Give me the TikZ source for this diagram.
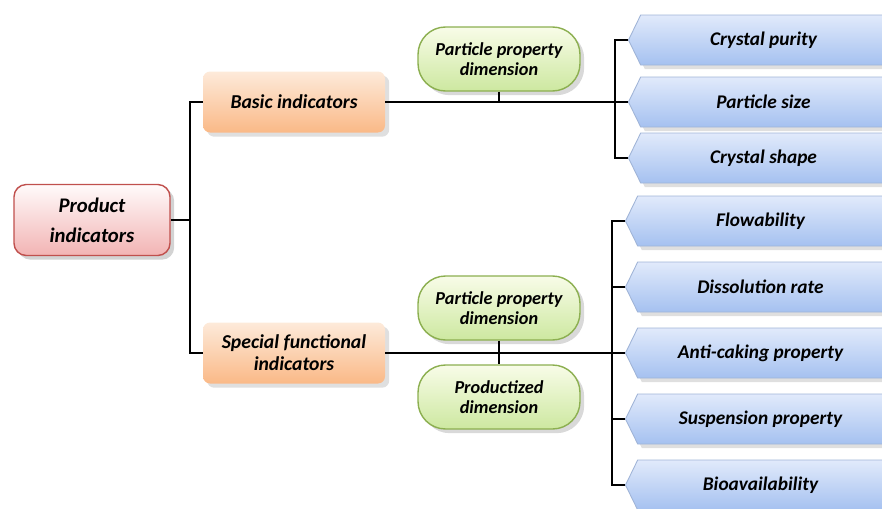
\documentclass[tikz,border=0pt]{standalone}
\usepackage{fontspec}
\setmainfont{Carlito}
\usepackage{xcolor}
\usepackage{tikz}
\usetikzlibrary{positioning,shadows,shapes.symbols}
\definecolor{rootred}{RGB}{192,80,77}
\definecolor{roottop}{RGB}{255,250,250}
\definecolor{rootbot}{RGB}{242,180,180}
\definecolor{orangetop}{RGB}{253,234,218}
\definecolor{orangebot}{RGB}{250,185,135}
\definecolor{greenline}{RGB}{140,175,80}
\definecolor{greentop}{RGB}{248,252,232}
\definecolor{greenbot}{RGB}{205,232,160}
\definecolor{bluetop}{RGB}{225,234,251}
\definecolor{bluebot}{RGB}{165,193,240}
\definecolor{blueline}{RGB}{160,180,215}

\begin{document}
\begin{tikzpicture}[
            node distance=0.32cm,
            link/.style={draw=black, line width=1.5pt},
            rootbox/.style={rectangle, rounded corners=7pt, draw=rootred, line width=0.8pt,
                        top color=roottop, bottom color=rootbot, minimum width=3.12cm,
                        minimum height=1.42cm, align=center, font=\fontsize{11.8}{17}\selectfont\bfseries\itshape,
                        drop shadow={opacity=0.35}},
            catbox/.style={rectangle, rounded corners=4pt, draw=none,
                        top color=orangetop, bottom color=orangebot, minimum width=3.64cm,
                        minimum height=1.22cm, align=center, font=\fontsize{11.2}{12.5}\selectfont\bfseries\itshape,
                        drop shadow={opacity=0.25}},
            dimbox/.style={rectangle, rounded corners=0.55cm, draw=greenline, line width=0.8pt,
                        top color=greentop, bottom color=greenbot, minimum width=3.24cm,
                        minimum height=1.28cm, align=center, font=\fontsize{10.4}{11.5}\selectfont\bfseries\itshape,
                        drop shadow={opacity=0.3}},
            leafbox/.style={signal, signal to=west and east, signal pointer angle=128,
                        draw=blueline, line width=0.5pt, top color=bluetop, bottom color=bluebot,
                        minimum width=5.4cm, minimum height=1.0cm, inner sep=0pt,
                        font=\fontsize{11}{12}\selectfont\bfseries\itshape,
                        drop shadow={opacity=0.25}}
        ]
            \useasboundingbox (0,0) rectangle (17.64,-10.16);

            % left part
            \node[rootbox] (prod) at (1.84,-4.40) {Product\\indicators};
            \node[catbox] (basic) at (5.88,-2.04) {Basic indicators};
            \node[catbox] (special) at (5.88,-7.06) {Special functional\\indicators};
            \coordinate (trunk) at (3.80,-4.40);

            % dimensions
            \node[dimbox] (dimA) at (9.98,-1.18) {Particle property\\dimension};
            \node[dimbox] (dimB) at (9.98,-6.16) {Particle property\\dimension};
            \node[dimbox] (dimC) at (9.98,-7.94) {Productized\\dimension};

            % basic leaves
            \node[leafbox, anchor=west] (purity) at (12.56,-0.80) {Crystal purity};
            \node[leafbox, anchor=west] (size) at (12.56,-2.04) {Particle size};
            \node[leafbox, anchor=west] (shape) at (12.56,-3.16) {Crystal shape};

            % special leaves
            \node[leafbox, anchor=west] (flow) at (12.50,-4.42) {Flowability};
            \node[leafbox, anchor=west] (dissol) at (12.50,-5.74) {Dissolution rate};
            \node[leafbox, anchor=west] (caking) at (12.50,-7.06) {Anti-caking property};
            \node[leafbox, anchor=west] (susp) at (12.50,-8.38) {Suspension property};
            \node[leafbox, anchor=west] (bio) at (12.50,-9.70) {Bioavailability};

            \coordinate (bktA) at (12.30,-2.04);
            \coordinate (bktB) at (12.24,-7.06);

            % connectors
            \draw[link] (prod) -- (trunk);
            \draw[link] (basic.west) -| (trunk) |- (special.west);
            \draw[link] (basic.east) -- (size.west);
            \draw[link] (dimA.south) -- (dimA.south |- basic.east);
            \draw[link] (purity.west) -| (bktA) |- (shape.west);
            \draw[link] (special.east) -- (caking.west);
            \draw[link] (dimB.south) -- (dimC.north);
            \draw[link] (flow.west) -| (bktB) |- (bio.west);
            \draw[link] (dissol.west) -- (dissol.west -| bktB);
            \draw[link] (susp.west) -- (susp.west -| bktB);
        \end{tikzpicture}
\end{document}
